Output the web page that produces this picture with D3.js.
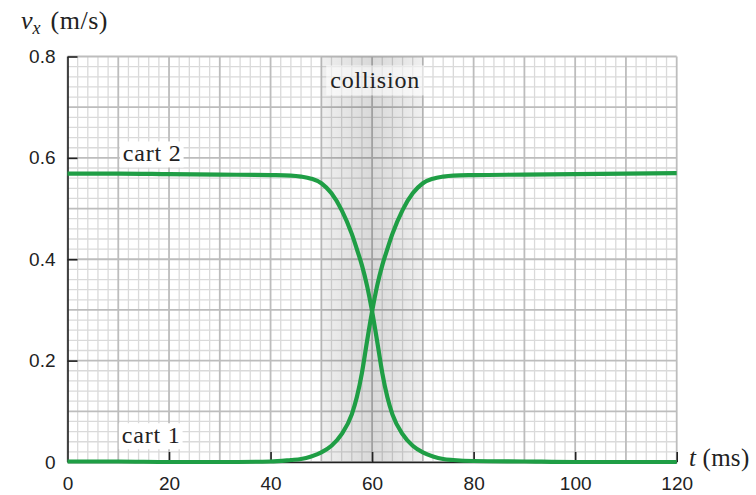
<!DOCTYPE html>
<html>
<head>
<meta charset="utf-8">
<script src="https://cdn.jsdelivr.net/npm/d3@7"></script>
<style>
  html, body { margin: 0; padding: 0; background: #fff; }
  svg { display: block; }
</style>
</head>
<body>
<svg id="chart" width="756" height="495"></svg>
<script>
// ---- data ----
const times = [0, 10, 20, 30, 40, 44, 46, 48, 50, 52, 54, 56, 57, 58, 59, 60, 61, 62, 63, 64, 66, 68, 70, 72, 74, 76, 80, 90, 100, 110, 120];
const cart1 = [0.001, 0.001, 0.000, 0.000, 0.001, 0.004, 0.006, 0.011, 0.019, 0.032, 0.055, 0.094, 0.128, 0.176, 0.238, 0.297, 0.348, 0.388, 0.420, 0.450, 0.497, 0.530, 0.550, 0.559, 0.563, 0.565, 0.566, 0.567, 0.568, 0.569, 0.570];
const cart2 = [0.569, 0.569, 0.568, 0.567, 0.566, 0.565, 0.563, 0.559, 0.550, 0.530, 0.497, 0.450, 0.420, 0.388, 0.348, 0.297, 0.238, 0.176, 0.128, 0.094, 0.055, 0.032, 0.019, 0.011, 0.006, 0.004, 0.002, 0.001, 0.000, 0.000, 0.000];
const seriesNames = ["cart 1", "cart 2"];
const xTicks = [0, 20, 40, 60, 80, 100, 120];
const yTicks = [0, 0.2, 0.4, 0.6, 0.8];
const xTickLabels = ["0", "20", "40", "60", "80", "100", "120"];
const yTickLabels = ["0", "0.2", "0.4", "0.6", "0.8"];
const collisionRange = [50, 70];
const collisionLabel = "collision";
const yTitle = { main: "v", sub: "x", unit: " (m/s)" };
const xTitle = { main: "t", unit: " (ms)" };

// ---- layout ----
const svg = d3.select("#chart");
const x = d3.scaleLinear().domain([0, 120]).range([67.5, 676.7]);
const y = d3.scaleLinear().domain([0, 0.8]).range([462, 56.5]);
const green = "#1f9e45";
const serif = "'Liberation Serif', 'Times New Roman', serif";
const sans = "'Liberation Sans', Arial, sans-serif";

// grid
const minorX = d3.range(0, 121, 2).filter(d => d % 10 !== 0);
const majorX = d3.range(0, 121, 10);
const minorY = d3.range(0, 41, 1).filter(d => d % 5 !== 0).map(d => d / 50);
const majorY = d3.range(0, 9, 1).map(d => d / 10);

const grid = svg.append("g");
grid.selectAll(".mx").data(minorX).join("line")
  .attr("x1", d => x(d)).attr("x2", d => x(d)).attr("y1", y(0)).attr("y2", y(0.8))
  .attr("stroke", "#dadada").attr("stroke-width", 1.3);
grid.selectAll(".my").data(minorY).join("line")
  .attr("y1", d => y(d)).attr("y2", d => y(d)).attr("x1", x(0)).attr("x2", x(120))
  .attr("stroke", "#dadada").attr("stroke-width", 1.3);
grid.selectAll(".Mx").data(majorX).join("line")
  .attr("x1", d => x(d)).attr("x2", d => x(d)).attr("y1", y(0)).attr("y2", y(0.8))
  .attr("stroke", "#bdbdbd").attr("stroke-width", 1.8);
grid.selectAll(".My").data(majorY).join("line")
  .attr("y1", d => y(d)).attr("y2", d => y(d)).attr("x1", x(0)).attr("x2", x(120))
  .attr("stroke", "#bdbdbd").attr("stroke-width", 1.8);

// collision band with gradient
const defs = svg.append("defs");
const grad = defs.append("linearGradient").attr("id", "band").attr("x1", "0").attr("x2", "1").attr("y1", "0").attr("y2", "0");
grad.append("stop").attr("offset", "0").attr("stop-color", "#000").attr("stop-opacity", 0.06);
grad.append("stop").attr("offset", "0.5").attr("stop-color", "#000").attr("stop-opacity", 0.15);
grad.append("stop").attr("offset", "1").attr("stop-color", "#000").attr("stop-opacity", 0.06);
svg.append("rect")
  .attr("x", x(collisionRange[0])).attr("width", x(collisionRange[1]) - x(collisionRange[0]))
  .attr("y", y(0.8)).attr("height", y(0) - y(0.8))
  .attr("fill", "url(#band)");

// collision label with translucent box
const collG = svg.append("g");
const collText = collG.append("text")
  .attr("x", x(60.6)).attr("y", y(0.737))
  .attr("text-anchor", "middle")
  .attr("font-family", serif).attr("font-size", 24).attr("letter-spacing", 0.8)
  .attr("fill", "#222").text(collisionLabel);
const cb = collText.node().getBBox();
collG.insert("rect", "text")
  .attr("x", cb.x - 4).attr("y", cb.y - 2).attr("width", cb.width + 8).attr("height", cb.height + 4)
  .attr("fill", "#fff").attr("opacity", 0.6);

// axes
const xAxis = d3.axisBottom(x).tickValues(xTicks).tickSize(-10).tickSizeOuter(0).tickPadding(15)
  .tickFormat((d, i) => xTickLabels[i]);
const yAxis = d3.axisLeft(y).tickValues(yTicks).tickSize(-10).tickSizeOuter(0).tickPadding(12)
  .tickFormat((d, i) => yTickLabels[i]);

const gx = svg.append("g").attr("transform", `translate(0,${y(0)})`).call(xAxis);
const gy = svg.append("g").attr("transform", `translate(${x(0)},0)`).call(yAxis);
[gx, gy].forEach(g => {
  g.select(".domain").attr("stroke", "#222").attr("stroke-width", 1.6);
  g.selectAll(".tick line").attr("stroke", "#222").attr("stroke-width", 1.6);
  g.selectAll(".tick text").attr("font-family", sans).attr("font-size", 19).attr("fill", "#222");
});
gx.selectAll(".tick").filter(d => d === 0).select("line").remove();
gy.selectAll(".tick").filter(d => d === 0).select("line").remove();

// series lines
const line = d3.line().x(d => x(d[0])).y(d => y(d[1])).curve(d3.curveMonotoneX);
const series = [cart1, cart2];
svg.append("g").selectAll("path").data(series).join("path")
  .attr("d", vals => line(times.map((t, i) => [t, vals[i]])))
  .attr("fill", "none").attr("stroke", green).attr("stroke-width", 4.2);

// series labels with white boxes
const labelPos = [[10.7, 0.037], [10.9, 0.593]];
seriesNames.forEach((name, i) => {
  const g = svg.append("g");
  const t = g.append("text")
    .attr("x", x(labelPos[i][0])).attr("y", y(labelPos[i][1]))
    .attr("font-family", serif).attr("font-size", 24).attr("letter-spacing", 0.8)
    .attr("fill", "#222").text(name);
  const b = t.node().getBBox();
  g.insert("rect", "text")
    .attr("x", b.x - 3).attr("y", b.y + 1).attr("width", b.width + 5).attr("height", b.height)
    .attr("fill", "#fff");
});

// axis titles
const yt = svg.append("text").attr("x", 21).attr("y", 29)
  .attr("font-family", serif).attr("font-size", 26).attr("fill", "#222");
yt.append("tspan").attr("font-style", "italic").text(yTitle.main);
yt.append("tspan").attr("font-style", "italic").attr("font-size", 18).attr("dy", 5).text(yTitle.sub);
yt.append("tspan").attr("dy", -5).attr("dx", 3).attr("letter-spacing", 0.5).text(yTitle.unit);

const xt = svg.append("text").attr("x", 689).attr("y", 466)
  .attr("font-family", serif).attr("font-size", 25).attr("fill", "#222");
xt.append("tspan").attr("font-style", "italic").text(xTitle.main);
xt.append("tspan").attr("letter-spacing", 0.3).text(xTitle.unit);
</script>
</body>
</html>
